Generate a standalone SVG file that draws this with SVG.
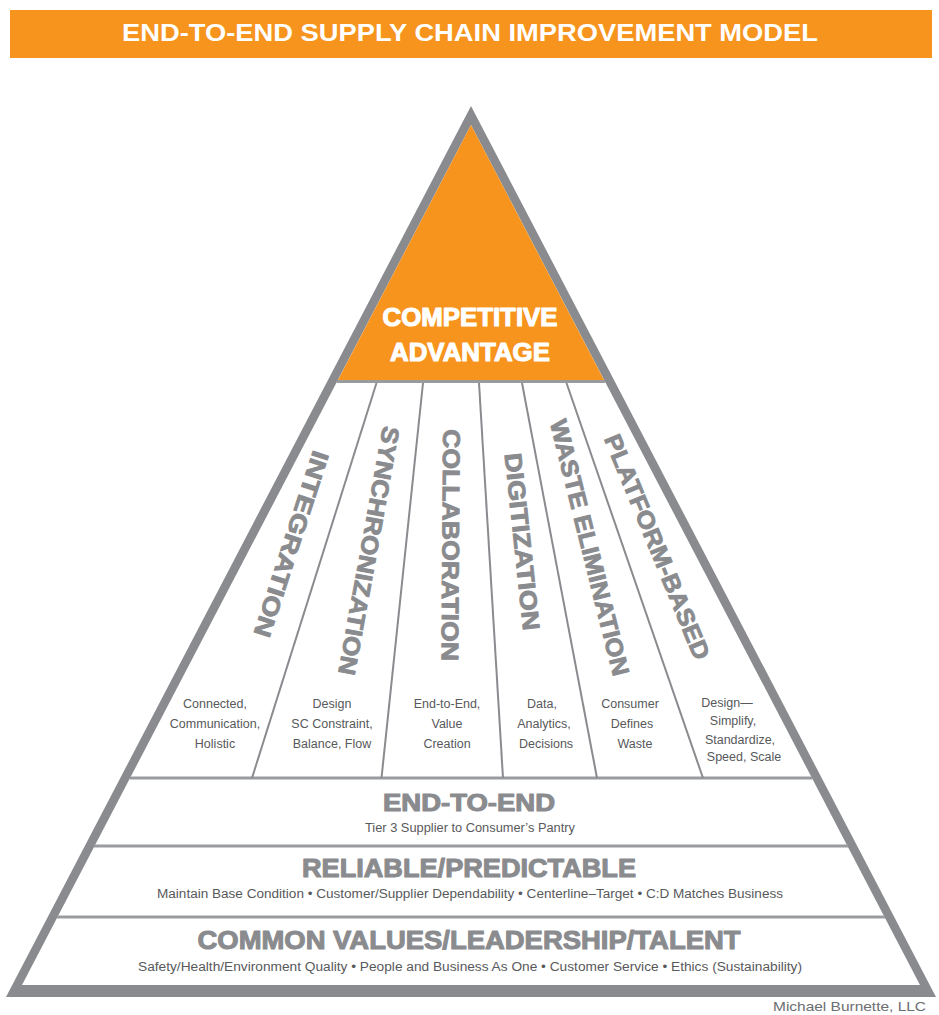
<svg xmlns="http://www.w3.org/2000/svg" width="939" height="1015" viewBox="0 0 939 1015">
<style>
.hdr{font-family:"Liberation Sans",Arial,sans-serif;font-weight:bold;fill:#ffffff}
.heavy{stroke:#ffffff;stroke-width:1.1;stroke-linejoin:round}
.col{font-family:"Liberation Sans",Arial,sans-serif;font-weight:bold;font-size:24px;fill:#8a8b8e;stroke:#8a8b8e;stroke-width:0.9;stroke-linejoin:round;text-anchor:middle}
.band{font-family:"Liberation Sans",Arial,sans-serif;font-weight:bold;fill:#8a8b8e;stroke:#8a8b8e;stroke-width:1;stroke-linejoin:round;text-anchor:middle}
.small{font-family:"Liberation Sans",Arial,sans-serif;font-size:12.5px;fill:#58595b;text-anchor:middle}
.sub{font-family:"Liberation Sans",Arial,sans-serif;font-size:12.5px;fill:#58595b;text-anchor:middle}
.div{stroke:#8a8b8e;stroke-width:2;fill:none}
.hline{stroke:#9a9b9e;stroke-width:3;fill:none}
</style>
<rect width="939" height="1015" fill="#ffffff"/>
<g id="header">
<rect x="10" y="10" width="922" height="48" fill="#f7941d"/>
<text class="hdr" x="470" y="41" font-size="24" text-anchor="middle" textLength="696" lengthAdjust="spacingAndGlyphs">END-TO-END SUPPLY CHAIN IMPROVEMENT MODEL</text>
</g>
<g id="pyramid">
<polygon points="471,106 936,997 6,997" fill="#8a8b8e"/>
<polygon points="471,125 920,985 22,985" fill="#ffffff"/>
</g>
<g id="apex">
<polygon points="471,125 604,380 338,380" fill="#f7941d"/>
<text class="hdr heavy" x="470" y="326" font-size="25" text-anchor="middle" textLength="175" lengthAdjust="spacingAndGlyphs">COMPETITIVE</text>
<text class="hdr heavy" x="470" y="361" font-size="25" text-anchor="middle" textLength="160" lengthAdjust="spacingAndGlyphs">ADVANTAGE</text>
</g>
<g id="connectors">
<line class="hline" x1="337" y1="381.5" x2="605" y2="381.5"/>
<line class="hline" x1="130" y1="778" x2="812" y2="778"/>
<line class="hline" x1="94" y1="846" x2="848" y2="846"/>
<line class="hline" x1="57" y1="917" x2="885" y2="917"/>
<line class="div" x1="376.5" y1="383" x2="252" y2="778"/>
<line class="div" x1="423" y1="383" x2="381.5" y2="778"/>
<line class="div" x1="479" y1="383" x2="503" y2="778"/>
<line class="div" x1="522" y1="383" x2="597" y2="778"/>
<line class="div" x1="566.5" y1="383" x2="703" y2="778"/>
</g>
<g id="integration">
<text class="col" transform="translate(291.7,544.2) rotate(108)" dy="0.36em" textLength="194" lengthAdjust="spacingAndGlyphs">INTEGRATION</text>
<text class="small" x="215" y="707.5">Connected,</text>
<text class="small" x="215" y="727.5">Communication,</text>
<text class="small" x="215" y="747.5">Holistic</text>
</g>
<g id="synchronization">
<text class="col" transform="translate(369.2,550.8) rotate(100.3)" dy="0.36em" textLength="252" lengthAdjust="spacingAndGlyphs">SYNCHRONIZATION</text>
<text class="small" x="332" y="707.5">Design</text>
<text class="small" x="332" y="727.5">SC Constraint,</text>
<text class="small" x="332" y="747.5">Balance, Flow</text>
</g>
<g id="collaboration">
<text class="col" transform="translate(451,545) rotate(90.4)" dy="0.36em" textLength="232" lengthAdjust="spacingAndGlyphs">COLLABORATION</text>
<text class="small" x="447" y="707.5">End-to-End,</text>
<text class="small" x="447" y="727.5">Value</text>
<text class="small" x="447" y="747.5">Creation</text>
</g>
<g id="digitization">
<text class="col" transform="translate(522.5,541.7) rotate(84)" dy="0.36em" textLength="178" lengthAdjust="spacingAndGlyphs">DIGITIZATION</text>
<text class="small" x="542" y="707.5">Data,</text>
<text class="small" x="544" y="727.5">Analytics,</text>
<text class="small" x="546" y="747.5">Decisions</text>
</g>
<g id="waste-elimination">
<text class="col" transform="translate(590,547.5) rotate(76)" dy="0.36em" textLength="263" lengthAdjust="spacingAndGlyphs">WASTE ELIMINATION</text>
<text class="small" x="630" y="707.5">Consumer</text>
<text class="small" x="632" y="727.5">Defines</text>
<text class="small" x="635" y="747.5">Waste</text>
</g>
<g id="platform-based">
<text class="col" transform="translate(657.5,546.7) rotate(67.7)" dy="0.36em" textLength="241" lengthAdjust="spacingAndGlyphs">PLATFORM-BASED</text>
<text class="small" x="727" y="707">Design—</text>
<text class="small" x="733" y="725">Simplify,</text>
<text class="small" x="740" y="743.5">Standardize,</text>
<text class="small" x="744" y="761">Speed, Scale</text>
</g>
<g id="end-to-end">
<text class="band" x="469" y="811" font-size="23" textLength="172" lengthAdjust="spacingAndGlyphs">END-TO-END</text>
<text class="sub" x="470" y="832" textLength="210" lengthAdjust="spacingAndGlyphs">Tier 3 Supplier to Consumer’s Pantry</text>
</g>
<g id="reliable">
<text class="band" x="469" y="877" font-size="25" textLength="334" lengthAdjust="spacingAndGlyphs">RELIABLE/PREDICTABLE</text>
<text class="sub" x="470" y="898" textLength="626" lengthAdjust="spacingAndGlyphs">Maintain Base Condition  •  Customer/Supplier Dependability  •  Centerline–Target  •  C:D Matches Business</text>
</g>
<g id="common-values">
<text class="band" x="469" y="949" font-size="25" textLength="543" lengthAdjust="spacingAndGlyphs">COMMON VALUES/LEADERSHIP/TALENT</text>
<text class="sub" x="470" y="971" textLength="664" lengthAdjust="spacingAndGlyphs">Safety/Health/Environment Quality  •  People and Business As One  •  Customer Service  •  Ethics (Sustainability)</text>
</g>
<g id="credit">
<text x="926" y="1011" font-family="'Liberation Sans',Arial,sans-serif" font-size="13" fill="#6d6e71" text-anchor="end" textLength="153" lengthAdjust="spacingAndGlyphs">Michael Burnette, LLC</text>
</g>
</svg>
